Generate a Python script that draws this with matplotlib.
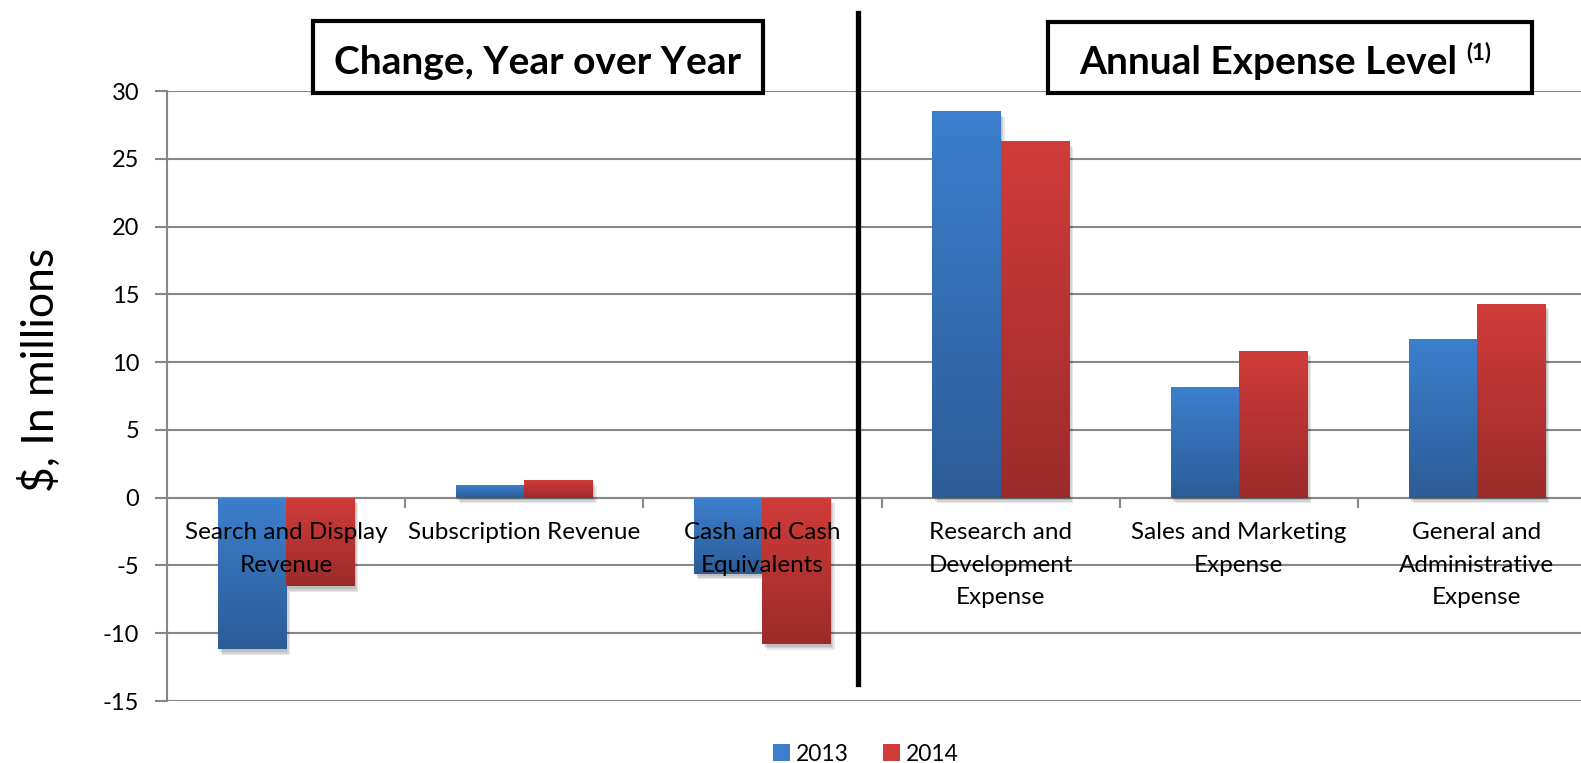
import numpy as np
import matplotlib
matplotlib.use("Agg")
import matplotlib.pyplot as plt
import matplotlib.patheffects as pe
from matplotlib.patches import Rectangle, Patch
from matplotlib.lines import Line2D
from matplotlib.colors import to_rgb

plt.rcParams['font.family'] = ['Lato', 'DejaVu Sans']

# data ($ millions)
categories = ["Search and Display\nRevenue", "Subscription Revenue", "Cash and Cash\nEquivalents",
              "Research and\nDevelopment\nExpense", "Sales and Marketing\nExpense",
              "General and\nAdministrative\nExpense"]
vals_2013 = [-11.2, 0.95, -5.6, 28.5, 8.15, 11.7]
vals_2014 = [-6.55, 1.3, -10.8, 26.3, 10.85, 14.3]
years = ["2013", "2014"]
yticks = [-15, -10, -5, 0, 5, 10, 15, 20, 25, 30]

blue_top, blue_bot = "#3C7FCD", "#2D5C97"
red_top, red_bot = "#D03C3A", "#9B2B2A"

W, H = 1581, 763
fig = plt.figure(figsize=(W / 100, H / 100), dpi=100)
# plot area runs a little past the right edge of the figure
ax = fig.add_axes([167 / W, 62 / H, 1429 / W, 610 / H])

n = len(categories)
x = np.arange(n) + 0.5
bw = 0.2865

shadow = [pe.SimplePatchShadow(offset=(d, -d - 1), shadow_rgbFace='k', alpha=0.09) for d in (1, 2, 3)]


def gradient_bar(xc, val, top, bot):
    b = ax.bar(xc, val, width=bw, facecolor='none', edgecolor='none', zorder=3,
               path_effects=shadow + [pe.Normal()])[0]
    c1, c2 = np.array(to_rgb(top)), np.array(to_rgb(bot))
    t = np.linspace(0, 1, 128)[:, None]
    img = (c1 * (1 - t) + c2 * t)[:, None, :]
    y0, y1 = sorted([0, val])
    im = ax.imshow(img, extent=(xc - bw / 2, xc + bw / 2, y0, y1), origin='upper',
                   aspect='auto', zorder=4, interpolation='bilinear')
    im.set_clip_path(b)


for i in range(n):
    gradient_bar(x[i] - bw / 2, vals_2013[i], blue_top, blue_bot)
    gradient_bar(x[i] + bw / 2, vals_2014[i], red_top, red_bot)

ax.set_xlim(0, n)
ax.set_ylim(-15, 30)
ax.set_yticks(yticks)
ax.set_yticklabels([str(v) for v in yticks], fontsize=17)
ax.grid(axis='y', color='#878787', linewidth=1.5, zorder=1)
ax.set_axisbelow(True)
ax.tick_params(axis='y', length=9, width=1.5, color='#878787', pad=11)

for s in ['top', 'right']:
    ax.spines[s].set_visible(False)
ax.spines['left'].set_color('#878787')
ax.spines['left'].set_linewidth(1.5)
ax.spines['bottom'].set_position(('data', 0))
ax.spines['bottom'].set_color('#878787')
ax.spines['bottom'].set_linewidth(1.5)
ax.spines['bottom'].set_zorder(2)
ax.set_xticks(np.arange(1, n))
ax.set_xticklabels([])
ax.tick_params(axis='x', length=7, width=1.5, color='#878787', direction='out')

for i, lab in enumerate(categories):
    ax.annotate(lab, xy=(x[i], 0), xytext=(0, -17.5), textcoords='offset points',
                ha='center', va='top', fontsize=17.5, linespacing=1.68, zorder=6)

fig.text(40 / W, 1 - 370 / H, "$, In millions", rotation=90, ha='center', va='center', fontsize=32)

# section header boxes
for (x0, y0, x1, y1) in [(313, 21, 763, 93), (1048, 22, 1532, 93)]:
    fig.patches.append(Rectangle((x0 / W, 1 - y1 / H), (x1 - x0) / W, (y1 - y0) / H,
                                 transform=fig.transFigure, facecolor='white',
                                 edgecolor='black', linewidth=3, zorder=5))
fig.text(538 / W, 1 - 62 / H, "Change, Year over Year", ha='center', va='center',
         fontsize=28, fontweight='bold', zorder=6)
t2 = fig.text(1079 / W, 1 - 62 / H, "Annual Expense Level", ha='left', va='center',
              fontsize=28, fontweight='bold', zorder=6)
fig.canvas.draw()
ext = t2.get_window_extent()
fig.text((ext.x1 + 9) / W, 1 - 53 / H, "(1)", ha='left', va='center',
         fontsize=16, fontweight='bold', zorder=6)

# divider between the two sections
fig.add_artist(Line2D([858 / W, 858 / W], [1 - 684 / H, 1 - 13 / H], color='black',
                      linewidth=3.8, transform=fig.transFigure, zorder=7))

handles = [Patch(facecolor=blue_top), Patch(facecolor=red_top)]
fig.legend(handles, years, loc='lower center', bbox_to_anchor=(866 / W, -0.029), ncol=2,
           frameon=False, fontsize=16.5, handlelength=0.75, handleheight=0.75,
           handletextpad=0.25, columnspacing=1.5)

fig.savefig("out.png", dpi=100)
